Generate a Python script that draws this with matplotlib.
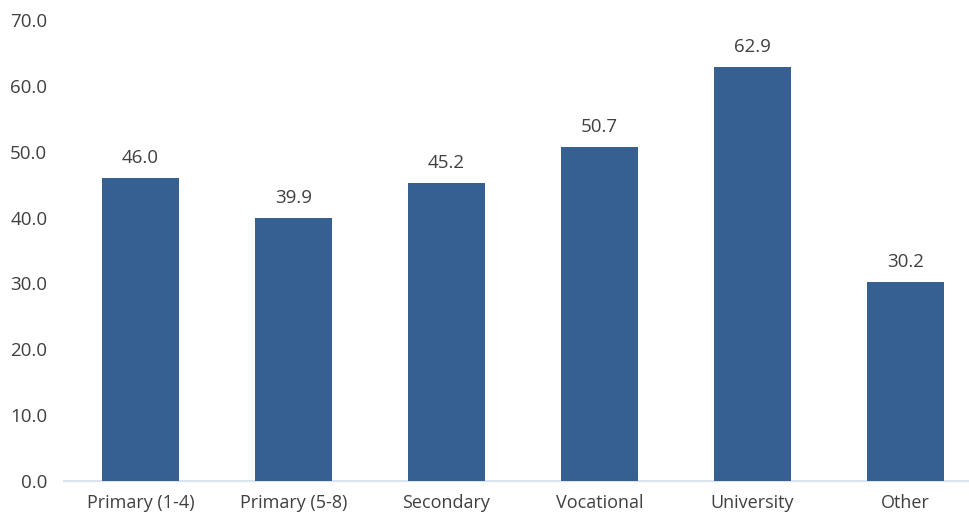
import matplotlib
matplotlib.use("Agg")
import matplotlib.pyplot as plt

categories = ["Primary (1-4)", "Primary (5-8)", "Secondary", "Vocational", "University", "Other"]
values = [46.0, 39.9, 45.2, 50.7, 62.9, 30.2]
yticks = [0, 10, 20, 30, 40, 50, 60, 70]

plt.rcParams['font.family'] = ['Open Sans', 'DejaVu Sans']
text_color = "#404040"
bar_color = "#366092"

fig = plt.figure(figsize=(9.69, 5.14), dpi=100)
ax = fig.add_axes([64/969, 33/514, 918/969, 461/514])

x = list(range(len(categories)))
bars = ax.bar(x, values, width=0.5, color=bar_color, zorder=3)
for xi, v in zip(x, values):
    ax.annotate(f"{v:.1f}", (xi, v), xytext=(0, 8), textcoords="offset points",
                ha="center", va="bottom", fontsize=13.5, color=text_color)

ax.set_xlim(-0.5, len(categories) - 0.5)
ax.set_ylim(0, 70)
ax.set_yticks(yticks)
ax.set_yticklabels([f"{t:.1f}" for t in yticks])
ax.set_xticks(x)
ax.set_xticklabels(categories)
ax.tick_params(axis="x", length=0, labelsize=13, colors=text_color, pad=9)
ax.tick_params(axis="y", length=0, labelsize=13.5, colors=text_color, pad=12)
for s in ["top", "right", "left"]:
    ax.spines[s].set_visible(False)
ax.spines["bottom"].set_color("#d9e4f0")
ax.spines["bottom"].set_linewidth(1.5)

fig.savefig("out.png", dpi=100)
